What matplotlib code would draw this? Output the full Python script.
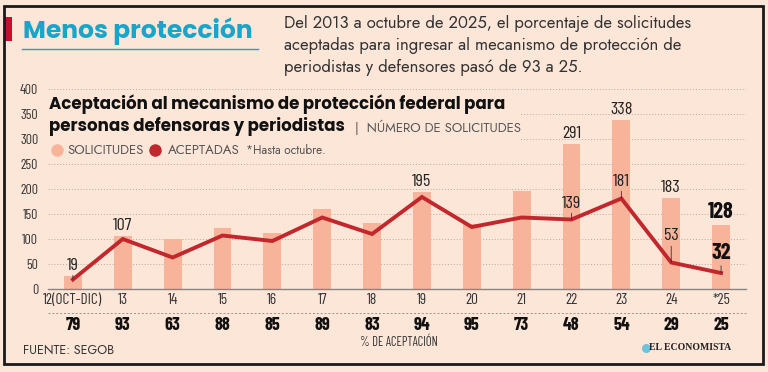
import matplotlib
matplotlib.use("Agg")
import matplotlib.pyplot as plt
from matplotlib.patches import Rectangle
from matplotlib.lines import Line2D

# ---------------- data ----------------
years = ["12(OCT-DIC)", "13", "14", "15", "16", "17", "18", "19", "20", "21", "22", "23", "24", "*25"]
solicitudes = [26, 107, 100, 122, 113, 161, 133, 195, 130, 196, 291, 338, 183, 128]
aceptadas = [19, 100, 63, 107, 96, 143, 110, 184, 124, 143, 139, 181, 53, 32]
pct_aceptacion = ["79", "93", "63", "88", "85", "89", "83", "94", "95", "73", "48", "54", "29", "25"]
bar_labels = {1: "107", 7: "195", 10: "291", 11: "338", 12: "183", 13: "128"}
line_labels = {0: ("19", 7), 10: ("139", 9), 11: ("181", 10), 12: ("53", 19), 13: ("32", 10)}
y_ticks = [0, 50, 100, 150, 200, 250, 300, 350, 400]

BG = "#FCE6D8"
BAR = "#F8B49B"
RED = "#C1272D"
CYAN = "#1AA5C8"
DARK = "#222222"
GREY = "#555555"

NARROW = ["Barlow Condensed", "DejaVu Sans"]
SANS = ["Jost", "DejaVu Sans"]
BOLD = ["Poppins", "DejaVu Sans"]

W, H = 768, 372
fig = plt.figure(figsize=(W / 100, H / 100), dpi=100, facecolor=BG)


def px(x, y):
    return (x / W, 1 - y / H)


# axes: x 48..746 px, y 89..289 px
ax = fig.add_axes([48 / W, (H - 289) / H, (746 - 48) / W, 200 / H])
ax.set_facecolor(BG)
x = list(range(len(years)))
ax.bar(x, solicitudes, width=0.36, color=BAR, zorder=2)
ax.plot(x, aceptadas, color=RED, lw=2.8, zorder=3, solid_joinstyle="miter")
ax.set_xlim(-0.5, 13.5)
ax.set_ylim(0, 400)
ax.set_yticks(y_ticks)
ax.set_yticklabels([str(v) for v in y_ticks], family=NARROW, fontsize=10, color="#333333")
ax.set_xticks(x)
ax.set_xticklabels(years, family=NARROW, fontsize=11, color="#333333")
ax.tick_params(axis="both", length=0)
ax.tick_params(axis="y", pad=7)
ax.tick_params(axis="x", pad=3)
for s in ["top", "right", "left"]:
    ax.spines[s].set_visible(False)
ax.spines["bottom"].set_color("#8a8480")
ax.spines["bottom"].set_linewidth(1)
ax.set_axisbelow(True)
ax.yaxis.grid(True, linestyle=(0, (1, 2)), color="#b5aaa2", lw=0.7)

# bar value labels
for i, lab in bar_labels.items():
    bold = i == 13
    ax.annotate(lab, (i, solicitudes[i]), xytext=(0, 3), textcoords="offset pixels",
                ha="center", va="bottom", family=NARROW,
                fontsize=16 if bold else 13, fontweight="bold" if bold else "normal",
                color="#111111" if bold else DARK, zorder=5)

# line value labels with small tick
for i, (lab, off) in line_labels.items():
    bold = i == 13
    ax.annotate(lab, (i, aceptadas[i]), xytext=(0, off), textcoords="offset pixels",
                ha="center", va="bottom", family=NARROW,
                fontsize=16 if bold else 13, fontweight="bold" if bold else "normal",
                color="#111111" if bold else DARK, zorder=5,
                arrowprops=dict(arrowstyle="-", lw=0.6, color="#333333", shrinkA=0, shrinkB=0))

# percentages row
xt = ax.get_xaxis_transform()
ax.plot([-0.5, 13.5], [-0.12, -0.12], transform=xt, clip_on=False,
        color="#9a918b", lw=0.7, linestyle=(0, (2, 2)))
for i, p in enumerate(pct_aceptacion):
    ax.text(i, -0.18, p, transform=xt, ha="center", va="center", family=NARROW,
            fontsize=13, fontweight="bold", color="#111111")
fig.text(*px(399, 343), "% DE ACEPTACIÓN", ha="center", va="center", family=NARROW,
         fontsize=9, color="#333333")

# chart title block (hides grid under it)
fig.patches.append(Rectangle(px(46, 158), 474 / W, 64 / H, transform=fig.transFigure,
                             facecolor=BG, edgecolor="none", zorder=1))
fig.text(*px(49, 104), "Aceptación al mecanismo de protección federal para", ha="left",
         va="center", family=BOLD, fontsize=12, fontweight="bold", color="#111111", zorder=3)
fig.text(*px(49, 127), "personas defensoras y periodistas", ha="left", va="center",
         family=BOLD, fontsize=12, fontweight="bold", color="#111111", zorder=3)
fig.text(*px(355, 127), "|  NÚMERO DE SOLICITUDES", ha="left", va="center", family=SANS,
         fontsize=9.5, color=GREY, zorder=3)

# legend
fig.lines.append(Line2D([57 / W], [1 - 150 / H], transform=fig.transFigure, marker="o",
                        markersize=8, color=BAR, linestyle="none", zorder=3))
fig.text(*px(67, 150), "SOLICITUDES", ha="left", va="center", family=SANS, fontsize=9.5,
         color=GREY, zorder=3)
fig.lines.append(Line2D([155 / W], [1 - 150 / H], transform=fig.transFigure, marker="o",
                        markersize=8, color=RED, linestyle="none", zorder=3))
fig.text(*px(168, 150), "ACEPTADAS", ha="left", va="center", family=SANS, fontsize=9.5,
         color=GREY, zorder=3)
fig.text(*px(246, 150), "*Hasta octubre.", ha="left", va="center", family=SANS, fontsize=8.5,
         color=GREY, zorder=3)

# header
fig.patches.append(Rectangle(px(4, 41), 8 / W, 24 / H, transform=fig.transFigure,
                             facecolor="#C8102E", edgecolor="none", zorder=3))
fig.text(*px(23, 31), "Menos protección", ha="left", va="center", family=BOLD, fontsize=18,
         fontweight="bold", color=CYAN)
fig.lines.append(Line2D([22 / W, 258 / W], [1 - 49 / H, 1 - 49 / H], transform=fig.transFigure,
                        color=CYAN, lw=1))
para = ["Del 2013 a octubre de 2025, el porcentaje de solicitudes",
        "aceptadas para ingresar al mecanismo de protección de",
        "periodistas y defensores pasó de 93 a 25."]
for k, line in enumerate(para):
    fig.text(*px(284, 24 + 21.5 * k), line, ha="left", va="center", family=SANS,
             fontsize=12, color="#333333")

# footer
fig.text(*px(23, 350), "FUENTE: SEGOB", ha="left", va="center", family=SANS, fontsize=9,
         color="#333333")
fig.text(*px(731, 348), "EL ECONOMISTA", ha="right", va="center",
         family=["Liberation Serif", "DejaVu Serif"], fontsize=7, fontweight="bold",
         color="#222222")
fig.lines.append(Line2D([646 / W], [1 - 348 / H], transform=fig.transFigure, marker="o",
                        markersize=5.5, color="#6FC3D8", linestyle="none", zorder=3))

# frame
fig.patches.append(Rectangle(px(4, 364), 759 / W, 358 / H, transform=fig.transFigure,
                             fill=False, edgecolor="#1a1a1a", lw=2, zorder=10))

fig.savefig("out.png", dpi=100, facecolor=BG)
